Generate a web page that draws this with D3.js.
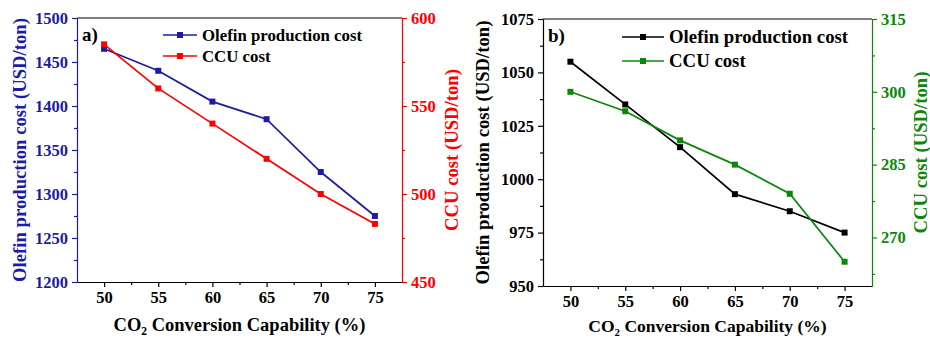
<!DOCTYPE html>
<html lang="en">
<head>
  <meta charset="UTF-8">
  <title>Olefin and CCU cost</title>
  <style>
    body {
      margin: 0;
      padding: 0;
      background: #fff;
    }
  </style>
</head>
<body>
  <svg id="chart" width="930" height="339"></svg>
  <script src="https://d3js.org/d3.v7.min.js"></script>
  <script>
    // values
    const capability = [50, 55, 60, 65, 70, 75];
    const olefinA = [1465, 1440, 1405, 1385, 1325, 1275];
    const ccuA = [585, 560, 540, 520, 500, 483];
    const olefinB = [1055, 1035, 1015, 993, 985, 975];
    const ccuB = [300, 296, 290, 285, 279, 265];

    const xTicks = [50, 55, 60, 65, 70, 75];
    const xMinor = [52.5, 57.5, 62.5, 67.5, 72.5];
    const leftTicksA = [1200, 1250, 1300, 1350, 1400, 1450, 1500];
    const leftMinorA = [1225, 1275, 1325, 1375, 1425, 1475];
    const rightTicksA = [450, 500, 550, 600];
    const rightMinorA = [475, 525, 575];
    const leftTicksB = [950, 975, 1000, 1025, 1050, 1075];
    const leftMinorB = [962.5, 987.5, 1012.5, 1037.5, 1062.5];
    const rightTicksB = [270, 285, 300, 315];
    const rightMinorB = [262.5, 277.5, 292.5, 307.5];

    const legendNames = ['Olefin production cost', 'CCU cost'];

    const FONT = "'Liberation Serif'";

    const svg = d3.select('#chart');

    function drawPanel(p) {
      const g = svg.append('g');

      const x = d3.scaleLinear().domain([47.5, 77.5]).range([p.x0, p.x1]);
      const yL = d3.scaleLinear().domain(p.leftDomain).range([p.y1, p.y0]);
      const yR = d3.scaleLinear().domain(p.rightDomain).range([p.y1, p.y0]);

      function styleAxis(sel, color, size) {
        sel.attr('font-family', null).attr('font-size', null);
        sel.select('.domain').attr('stroke', color).attr('stroke-width', 1.2);
        sel.selectAll('.tick line').attr('stroke', color).attr('stroke-width', 1.2);
        sel.selectAll('text')
          .attr('fill', color)
          .style('font-family', FONT)
          .style('font-weight', 'bold')
          .style('font-size', size + 'px');
      }

      function label(sel) {
        return sel.style('font-family', FONT).style('font-weight', 'bold');
      }

      // top frame line
      g.append('line')
        .attr('x1', p.x0).attr('x2', p.x1)
        .attr('y1', p.y0).attr('y2', p.y0)
        .attr('stroke', '#000').attr('stroke-width', 1.2);

      // bottom axis
      const xg = g.append('g')
        .attr('transform', `translate(0, ${p.y1})`)
        .call(d3.axisBottom(x).tickValues(xTicks).tickFormat(d3.format('d'))
          .tickSize(5).tickSizeOuter(0).tickPadding(4.5));
      styleAxis(xg, '#000', 16.5);
      const xm = g.append('g')
        .attr('transform', `translate(0, ${p.y1})`)
        .call(d3.axisBottom(x).tickValues(xMinor).tickSize(3).tickSizeOuter(0).tickFormat(''));
      styleAxis(xm, '#000', 16);
      xm.select('.domain').remove();

      // left axis
      const lg = g.append('g')
        .attr('transform', `translate(${p.x0}, 0)`)
        .call(d3.axisLeft(yL).tickValues(p.leftTicks).tickFormat(d3.format('d'))
          .tickSize(5).tickSizeOuter(0).tickPadding(4));
      styleAxis(lg, p.leftColor, 16.5);
      const lm = g.append('g')
        .attr('transform', `translate(${p.x0}, 0)`)
        .call(d3.axisLeft(yL).tickValues(p.leftMinor).tickSize(3).tickSizeOuter(0).tickFormat(''));
      styleAxis(lm, p.leftColor, 16);
      lm.select('.domain').remove();

      // right axis
      const rg = g.append('g')
        .attr('transform', `translate(${p.x1}, 0)`)
        .call(d3.axisRight(yR).tickValues(p.rightTicks).tickFormat(d3.format('d'))
          .tickSize(5).tickSizeOuter(0).tickPadding(4));
      styleAxis(rg, p.rightColor, 16.5);
      const rm = g.append('g')
        .attr('transform', `translate(${p.x1}, 0)`)
        .call(d3.axisRight(yR).tickValues(p.rightMinor).tickSize(3).tickSizeOuter(0).tickFormat(''));
      styleAxis(rm, p.rightColor, 16);
      rm.select('.domain').remove();

      // series
      const series = [
        { vals: p.olefin, scale: yL, color: p.olefinColor },
        { vals: p.ccu, scale: yR, color: p.ccuColor }
      ];
      series.forEach(function(s) {
        const pts = capability.map((c, i) => ({ c: c, v: s.vals[i] }));
        const line = d3.line().x(d => x(d.c)).y(d => s.scale(d.v));
        g.append('path')
          .datum(pts)
          .attr('d', line)
          .attr('fill', 'none')
          .attr('stroke', s.color)
          .attr('stroke-width', 1.7);
        g.selectAll(null)
          .data(pts)
          .enter()
          .append('rect')
          .attr('x', d => x(d.c) - 3)
          .attr('y', d => s.scale(d.v) - 3)
          .attr('width', 6)
          .attr('height', 6)
          .attr('fill', s.color);
      });

      // legend
      legendNames.forEach(function(name, i) {
        const ly = p.legY + i * p.legGap;
        const color = i === 0 ? p.olefinColor : p.ccuColor;
        g.append('line')
          .attr('x1', p.legX).attr('x2', p.legX + p.legLen)
          .attr('y1', ly).attr('y2', ly)
          .attr('stroke', color).attr('stroke-width', 1.7);
        g.append('rect')
          .attr('x', p.legX + p.legLen / 2 - 3)
          .attr('y', ly - 3)
          .attr('width', 6).attr('height', 6)
          .attr('fill', color);
        label(g.append('text'))
          .attr('x', p.legX + p.legLen + 5)
          .attr('y', ly + 6)
          .style('font-size', p.legSize + 'px')
          .attr('fill', '#000')
          .text(name);
      });

      // panel tag
      label(g.append('text'))
        .attr('x', p.x0 + 5)
        .attr('y', p.tagY)
        .style('font-size', '19px')
        .attr('fill', '#000')
        .text(p.tag);

      // x title with subscript
      const xt = label(g.append('text'))
        .attr('x', (p.x0 + p.x1) / 2)
        .attr('y', p.y1 + p.xTitleDy)
        .attr('text-anchor', 'middle')
        .style('font-size', p.xTitleSize + 'px')
        .attr('fill', '#000');
      xt.append('tspan').text('CO');
      xt.append('tspan').attr('dy', 4).style('font-size', (p.xTitleSize * 0.62) + 'px').text('2');
      xt.append('tspan').attr('dy', -4).text(' Conversion Capability (%)');

      // y titles
      const midY = (p.y0 + p.y1) / 2;
      label(g.append('text'))
        .attr('transform', `translate(${p.leftTitleX}, ${midY}) rotate(-90)`)
        .attr('text-anchor', 'middle')
        .attr('dy', '0.35em')
        .style('font-size', '18.7px')
        .attr('fill', p.leftColor)
        .text('Olefin production cost (USD/ton)');
      label(g.append('text'))
        .attr('transform', `translate(${p.rightTitleX}, ${midY}) rotate(-90)`)
        .attr('text-anchor', 'middle')
        .attr('dy', '0.35em')
        .style('font-size', '18.7px')
        .attr('fill', p.rightColor)
        .text('CCU cost (USD/ton)');
    }

    function drawAll() {
      svg.selectAll('*').remove();

      drawPanel({
        x0: 77, x1: 402, y0: 18, y1: 282,
        leftDomain: [1200, 1500], rightDomain: [450, 600],
        leftTicks: leftTicksA, leftMinor: leftMinorA,
        rightTicks: rightTicksA, rightMinor: rightMinorA,
        olefin: olefinA, ccu: ccuA,
        leftColor: '#1c1ca4', rightColor: '#ff0000',
        olefinColor: '#1c1ca4', ccuColor: '#ff0000',
        legX: 163, legLen: 34, legY: 35, legGap: 21, legSize: 16.8,
        tag: 'a)', tagY: 41,
        xTitleDy: 49, xTitleSize: 18.5,
        leftTitleX: 19.5, rightTitleX: 451
      });

      drawPanel({
        x0: 543, x1: 872, y0: 19, y1: 286,
        leftDomain: [950, 1075], rightDomain: [260, 315],
        leftTicks: leftTicksB, leftMinor: leftMinorB,
        rightTicks: rightTicksB, rightMinor: rightMinorB,
        olefin: olefinB, ccu: ccuB,
        leftColor: '#000000', rightColor: '#0b870b',
        olefinColor: '#000000', ccuColor: '#0b870b',
        legX: 622, legLen: 42, legY: 37, legGap: 24, legSize: 18.8,
        tag: 'b)', tagY: 42,
        xTitleDy: 46, xTitleSize: 17.5,
        leftTitleX: 482.5, rightTitleX: 920.5
      });
    }

    drawAll();
    // make sure the serif face is loaded before the final draw
    if (document.fonts && document.fonts.load) {
      document.fonts.load("bold 16px 'Liberation Serif'").then(drawAll, drawAll);
    }
  </script>
</body>
</html>
